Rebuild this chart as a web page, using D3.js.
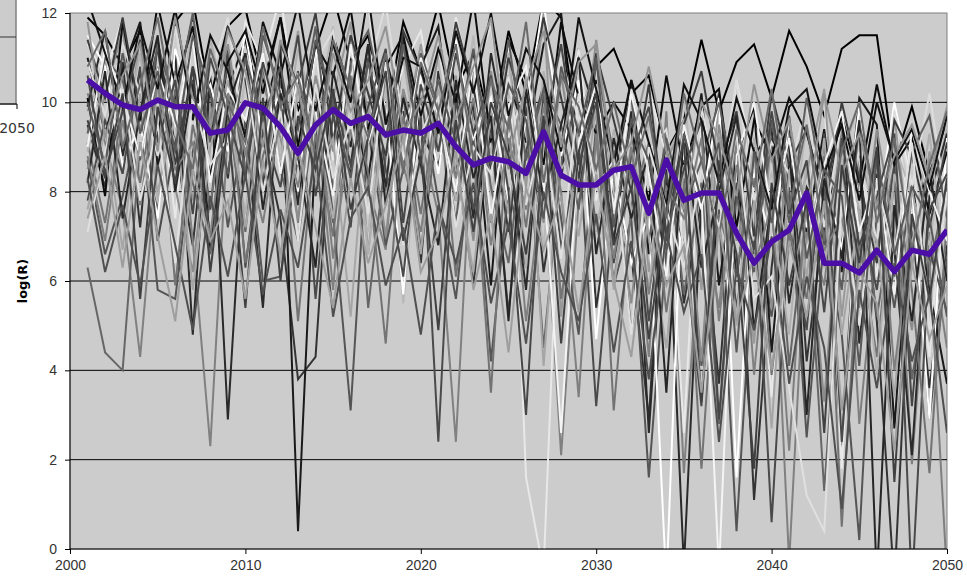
<!DOCTYPE html>
<html>
<head>
<meta charset="utf-8">
<script src="https://cdn.jsdelivr.net/npm/d3@7"></script>
<style>
  html, body { margin: 0; padding: 0; background: #fff; }
  svg { display: block; font-family: "DejaVu Sans", Verdana, sans-serif; }
  .axis text { fill: #333; font-size: 14px; }
  .axis path, .axis line { stroke: #000; }
</style>
</head>
<body>
<div id="chart"></div>
<script>
// years on the x axis
const years = d3.range(2001, 2051);
const xTicks = [2000, 2010, 2020, 2030, 2040, 2050];
const yTicks = [0, 2, 4, 6, 8, 10, 12];

// mean line (purple)
const meanLogR = [
  10.50, 10.20, 9.94, 9.84, 10.05, 9.90, 9.90, 9.31, 9.38, 9.99,
  9.87, 9.45, 8.86, 9.49, 9.84, 9.53, 9.68, 9.27, 9.38, 9.31,
  9.53, 9.01, 8.60, 8.75, 8.67, 8.41, 9.34, 8.37, 8.15, 8.15,
  8.48, 8.56, 7.52, 8.71, 7.81, 7.97, 7.97, 7.07, 6.40, 6.88,
  7.14, 7.97, 6.40, 6.40, 6.18, 6.69, 6.21, 6.69, 6.60, 7.14
];

// individual runs, one grey shade each
const runColors = [
  "#000000", "#333333", "#808080", "#e8e8e8", "#555555", "#999999",
  "#1a1a1a", "#b8b8b8", "#666666", "#2a2a2a", "#ffffff", "#4a4a4a",
  "#8c8c8c", "#dddddd", "#0d0d0d", "#737373", "#b0b0b0", "#3d3d3d",
  "#5e5e5e", "#a6a6a6", "#262626", "#f4f4f4", "#474747", "#7f7f7f",
  "#111111", "#e0e0e0", "#595959", "#949494", "#404040", "#6b6b6b",
  "#4f4f4f", "#9e9e9e"
];

const runs = [
  [11.9, 11.5, 10.8, 11.6, 9.2, 11.8, 12.3, 10.1, 11.7, 12.1,
   10.4, 11.9, 9.8, 11.2, 12.4, 10.9, 11.5, 9.6, 11.8, 10.7,
   12.2, 10.3, 11.1, 9.4, 11.6, 10.2, 12.3, 11.9, 9.1, 10.8,
   11.2, 10.2, 10.6, 8.9, 9.6, 11.4, 9.8, 10.9, 11.3, 10.1,
   11.6, 10.8, 9.7, 11.2, 11.5, 11.5, 8.6, 9.9, 8.4, 9.6],
  [9.5, 8.1, 10.9, 7.2, 11.4, 9.0, 6.8, 10.5, 8.3, 11.7,
   9.2, 7.4, 3.8, 4.3, 10.2, 8.6, 11.3, 7.9, 9.8, 6.4,
   10.7, 8.8, 5.9, 9.6, 7.1, 10.4, 6.2, 8.7, 11.2, 5.4,
   8.1, 6.6, 2.9, 9.3, 5.5, 7.8, 3.7, 8.9, 1.1, 6.3,
   9.6, 4.2, 7.4, 2.3, 8.7, 5.1, -0.8, 7.2, 3.6, 6.8],
  [10.2, 9.1, 7.6, 4.3, 8.9, 10.7, 6.9, 2.3, 9.4, 11.1,
   8.2, 10.5, 7.3, 9.8, 5.8, 10.9, 8.1, 6.7, 11.3, 9.2,
   7.5, 2.4, 9.9, 7.3, 9.6, 5.1, 8.4, 2.1, 7.8, 9.1,
   6.0, 8.5, 4.3, 9.8, 1.7, 7.6, 5.4, 9.2, 3.9, 8.1,
   -0.3, 7.3, 5.9, 9.4, 2.8, 6.7, 8.6, 1.9, 7.1, 4.5],
  [11.3, 10.6, 11.9, 9.4, 10.8, 7.4, 11.6, 10.3, 9.1, 11.8,
   10.9, 12.4, 9.6, 11.1, 8.7, 10.5, 12.2, 9.3, 10.8, 11.6,
   9.4, 11.9, 10.2, 8.6, 11.4, 1.6, -0.5, 9.3, 11.2, 7.8,
   9.4, 7.9, 10.3, 8.8, 2.6, 9.7, 7.2, 10.5, 8.6, 3.4,
   9.1, 7.7, 10.2, 1.8, 8.9, 6.1, 9.6, 7.4, 4.3, 9.2],
  [8.7, 6.6, 7.9, 9.8, 5.8, 5.6, 8.9, 10.4, 7.2, 9.6,
   6.0, 6.1, 8.8, 10.3, 7.5, 3.1, 9.4, 6.8, 8.5, 10.1,
   7.8, 5.6, 9.2, 4.2, 8.1, 6.3, 10.2, 7.4, 4.8, 9.5,
   5.9, 7.4, 1.6, 6.7, 8.3, 4.1, 7.6, 0.4, 6.9, 5.2,
   8.1, 2.5, 7.0, 4.8, 0.2, 7.7, 5.4, 8.2, 2.9, 6.5],
  [9.8, 10.9, 8.4, 11.5, 9.7, 10.6, 7.8, 9.9, 11.2, 8.5,
   10.7, 9.3, 11.6, 8.2, 10.1, 11.8, 6.6, 10.4, 9.1, 11.3,
   8.9, 10.6, 7.7, 9.5, 11.0, 8.1, 12.1, 5.2, 9.6, 10.9,
   7.3, 10.4, 6.2, 8.7, 9.5, 5.8, 10.1, 7.9, 4.6, 9.3,
   6.9, 8.4, 10.3, 5.2, 8.8, 7.5, 9.7, 6.3, 8.9, 7.8],
  [11.0, 9.3, 10.7, 11.8, 8.6, 10.1, 11.9, 6.7, 10.3, 11.4,
   9.7, 11.2, 0.4, 9.1, 11.5, 10.2, 8.3, 11.0, 9.5, 10.8,
   11.7, 8.4, 10.0, 5.9, 10.6, 9.1, 11.3, 12.0, 8.0, 10.5,
   8.2, 10.5, 6.6, 9.1, 7.7, 10.2, 5.9, 8.8, 9.9, 4.4,
   8.6, 7.1, 9.4, 6.2, 10.1, 9.5, 2.7, 8.2, 5.8, 3.7],
  [10.5, 9.6, 11.4, 8.3, 10.2, 9.1, 11.8, 8.7, 7.5, 10.6,
   11.3, 8.9, 10.1, 9.6, 11.7, 8.2, 7.1, 10.4, 5.5, 9.8,
   10.9, 8.6, 11.5, 7.9, 10.2, 9.3, 6.8, 10.7, 8.4, 11.1,
   8.0, 6.3, 9.6, 7.8, 10.2, 6.5, 8.9, 9.8, 7.1, 8.4,
   6.6, 9.5, 7.3, 8.7, 10.0, 6.4, 9.1, 7.9, 6.8, 9.6],
  [6.3, 4.4, 4.0, 9.1, 7.6, 10.3, 8.2, 6.6, 9.7, 7.1,
   10.8, 8.5, 6.9, 9.9, 7.3, 10.6, 5.4, 8.8, 10.2, 6.7,
   9.5, 7.8, 10.9, 8.1, 6.4, 9.7, 4.5, 8.6, 10.3, 7.2,
   8.8, 4.9, 7.4, 9.1, 5.7, 8.2, 2.8, 7.9, 6.4, 9.2,
   4.1, 7.6, 1.3, 6.9, 8.4, 5.2, 7.7, 3.8, 6.3, 8.1],
  [9.9, 11.6, 8.8, 10.7, 9.2, 11.1, 4.8, 10.6, 2.9, 9.4,
   5.4, 10.8, 7.7, 11.3, 9.6, 8.4, 10.9, 8.1, 11.4, 9.3,
   8.6, 10.2, 7.4, 11.1, 9.0, 5.8, 10.5, 8.3, 11.0, 9.7,
   6.9, 9.8, 2.6, 8.5, -0.4, 7.9, 10.2, 6.1, 8.8, 9.4,
   5.5, 8.1, 7.4, 9.7, 4.6, 8.4, 6.7, 2.1, 7.9, 9.3],
  [11.5, 10.8, 8.6, 9.5, 7.4, 11.2, 9.7, 10.4, 8.9, 11.6,
   9.1, 10.3, 8.0, 11.2, 9.5, 7.3, 10.8, 9.9, 5.7, 10.6,
   8.4, 11.4, 9.2, 10.1, 7.8, 9.6, 12.3, 8.8, 10.5, 4.7,
   8.6, 6.4, 7.5, -0.8, 9.2, 7.6, 10.1, 1.6, 8.4, 6.8,
   9.6, 7.2, 8.5, 6.7, 9.9, 7.3, 10.0, 8.1, 2.9, 9.2],
  [7.8, 9.6, 8.4, 10.8, 6.9, 9.1, 10.5, 7.6, 11.2, 6.3,
   9.4, 8.1, 10.7, 5.6, 9.8, 7.2, 11.0, 8.5, 6.1, 9.7,
   2.4, 10.1, 7.6, 9.3, 5.3, 8.9, 10.4, 6.7, 9.1, 3.2,
   7.7, 9.5, 5.1, 8.4, 6.8, 3.2, 8.7, 5.4, 7.9, 0.6,
   7.2, 4.9, 9.3, 2.4, 7.6, 5.8, 8.6, -0.9, 6.7, 5.3],
  [8.5, 10.2, 11.6, 9.4, 10.8, 8.1, 6.2, 9.7, 11.3, 8.8,
   10.4, 9.2, 7.4, 10.6, 8.9, 11.5, 9.8, 7.0, 10.3, 8.7,
   11.1, 9.5, 6.9, 10.7, 8.5, 9.9, 7.3, 10.6, 8.2, 11.4,
   8.3, 5.5, 9.1, 7.7, 8.7, 4.2, 9.5, 6.9, 8.3, 5.4,
   9.0, 7.6, 3.3, 8.5, 6.2, 9.4, 7.1, 4.9, 8.7, 9.7],
  [10.9, 9.7, 11.3, 10.2, 8.8, 11.7, 9.4, 10.6, 11.9, 9.0,
   11.4, 10.1, 8.6, 10.9, 11.6, 9.3, 10.7, 12.2, 9.5, 10.4,
   11.2, 8.9, 10.6, 11.7, 9.2, 10.3, 8.1, 11.0, 9.6, 10.8,
   7.5, 10.3, 8.9, 9.4, 6.7, 9.9, 8.0, 10.5, 7.8, 9.1,
   8.4, 10.0, 7.2, 9.6, 8.7, 6.9, 9.8, 8.1, 10.2, 7.7],
  [10.1, 7.9, 11.8, 9.6, 12.2, 10.4, 11.7, 8.3, 10.9, 11.6,
   10.2, 11.9, 9.0, 11.3, 10.6, 12.1, 9.4, 10.8, 11.5, 9.7,
   11.2, 10.0, 12.3, 9.1, 11.4, 10.5, 8.6, 11.8, 10.1, 9.3,
   10.0, 9.4, 7.8, 10.6, 8.5, 9.9, 10.3, 7.2, 9.6, 8.8,
   10.1, 9.3, 7.9, 9.7, 8.2, 10.4, 8.6, 9.2, 7.5, 8.9],
  [9.1, 7.3, 9.9, 8.2, 10.6, 5.9, 9.5, 7.7, 10.3, 6.4,
   8.8, 10.1, 5.1, 9.3, 7.0, 10.5, 8.4, 4.6, 9.7, 7.5,
   10.2, 6.1, 8.9, 3.5, 9.8, 7.2, 10.4, 5.6, 8.3, 9.9,
   3.1, 7.7, 9.1, 5.3, 8.2, 1.8, 7.5, 6.1, 9.0, 3.9,
   7.1, 5.6, 8.8, 0.5, 6.9, 4.3, 8.3, 5.8, 1.7, 7.4],
  [8.9, 10.4, 9.2, 11.1, 7.8, 10.6, 8.6, 11.4, 9.8, 7.5,
   10.9, 8.7, 11.2, 9.6, 7.4, 10.3, 6.6, 9.9, 11.0, 8.4,
   10.5, 7.8, 9.6, 8.9, 11.1, 6.3, 10.7, 8.5, 9.2, 7.1,
   9.4, 7.6, 5.9, 8.8, 9.6, 6.6, 8.1, 5.2, 9.2, 7.5,
   4.8, 8.7, 6.3, 9.1, 7.6, 3.9, 8.4, 6.8, 9.3, 5.9],
  [11.4, 10.1, 11.9, 9.7, 11.2, 8.6, 10.8, 9.3, 11.7, 10.5,
   8.1, 11.3, 10.4, 12.0, 9.1, 11.5, 10.2, 8.8, 11.6, 10.7,
   9.4, 11.8, 10.3, 8.5, 11.0, 9.7, 11.9, 10.1, 8.3, 11.1,
   9.6, 8.0, 10.4, 6.9, 9.5, 10.7, 8.5, 9.8, 7.0, 10.2,
   8.6, 9.4, 7.7, 10.0, 8.3, 6.4, 9.6, 8.8, 7.2, 9.1],
  [9.3, 11.0, 10.5, 8.7, 11.3, 9.9, 12.0, 9.1, 10.8, 8.4,
   11.5, 10.2, 9.4, 11.7, 8.0, 10.9, 11.6, 9.7, 8.6, 11.1,
   9.9, 7.3, 10.8, 9.2, 11.4, 8.7, 10.3, 9.5, 7.6, 10.9,
   8.8, 10.1, 6.9, 9.2, 7.6, 8.7, 10.0, 7.9, 6.2, 9.6,
   7.3, 10.1, 8.0, 5.8, 9.5, 7.8, 6.1, 8.9, 9.7, 7.4],
  [7.6, 9.4, 6.7, 10.2, 8.0, 9.7, 5.8, 9.0, 10.5, 7.2,
   9.6, 6.4, 10.4, 8.3, 9.2, 5.2, 10.0, 7.9, 9.5, 6.6,
   10.3, 8.5, 6.2, 9.8, 7.5, 10.6, 4.1, 9.3, 7.0, 9.9,
   5.8, 9.1, 7.0, 4.5, 8.6, 6.4, 9.3, 5.0, 7.8, 2.7,
   8.5, 6.1, 9.2, 4.8, 7.6, 6.9, 3.4, 8.1, 5.5, 7.9],
  [8.2, 10.7, 7.4, 9.8, 11.5, 8.0, 10.4, 6.9, 9.9, 11.1,
   7.6, 10.2, 8.8, 6.3, 10.7, 9.0, 11.3, 7.7, 10.1, 8.6,
   6.8, 10.5, 8.3, 9.7, 5.1, 10.3, 7.8, 9.5, 11.0, 6.6,
   9.2, 7.4, 8.9, 3.5, 9.4, 6.3, 8.0, 9.7, 4.9, 7.8,
   9.1, 3.0, 8.3, 6.5, 9.6, -0.7, 7.7, 5.1, 8.5, 6.0],
  [9.0, 11.2, 10.1, 8.8, 10.7, 9.5, 11.4, 8.2, 10.3, 9.6,
   11.1, 8.4, 10.6, 9.8, 7.9, 11.3, 9.1, 10.5, 8.7, 11.0,
   9.7, 8.0, 10.9, 7.4, 9.9, 10.8, 8.3, 2.6, 9.1, 10.4,
   7.6, 10.2, 8.4, 6.1, 9.5, 7.9, -0.5, 8.8, 10.0, 7.5,
   9.2, 6.6, 8.6, 9.8, 7.1, 8.3, 5.7, 9.4, 8.0, 6.9],
  [10.6, 8.4, 9.8, 11.4, 9.1, 10.5, 7.5, 11.0, 9.7, 8.3,
   10.9, 9.4, 11.5, 7.9, 10.2, 8.6, 9.9, 11.2, 7.3, 10.4,
   8.9, 11.1, 9.3, 10.6, 8.0, 3.0, 9.4, 11.3, 8.6, 10.0,
   6.4, 8.8, 9.9, 7.1, 8.5, 9.6, 2.9, 8.2, 6.7, 9.8,
   7.5, 8.7, 5.3, 9.2, 6.8, 7.9, 9.3, 3.2, 7.6, 8.4],
  [8.8, 6.9, 9.6, 7.7, 10.4, 8.5, 9.1, 7.0, 10.2, 8.9,
   7.3, 9.7, 8.1, 10.3, 6.5, 9.4, 7.9, 10.6, 8.6, 7.1,
   9.8, 8.3, 10.1, 6.8, 9.2, 7.6, 9.9, 8.0, 3.4, 9.3,
   6.5, 9.0, 5.7, 8.1, 7.4, 9.2, 5.1, 8.6, 6.3, 7.7,
   2.2, 8.0, 6.7, 7.4, 5.4, 8.8, 4.0, 7.3, 6.4, -0.6],
  [12.3, 11.1, 9.9, 11.7, 10.3, 12.1, 9.6, 11.5, 10.7, 9.2,
   11.8, 10.6, 12.2, 9.8, 11.3, 10.0, 12.4, 9.5, 11.0, 10.8,
   9.3, 11.6, 10.2, 12.0, 9.7, 11.2, 10.5, 8.9, 11.9, 10.3,
   8.6, 10.5, 9.1, 7.7, 10.4, 9.6, 8.2, 10.1, 8.9, 7.6,
   9.9, 10.3, 8.4, 9.5, 7.8, 10.0, 8.7, 9.4, 8.1, 9.7],
  [7.1, 8.9, 10.3, 7.8, 9.5, 6.4, 10.1, 8.6, 9.2, 10.7,
   8.0, 9.8, 6.9, 10.4, 8.3, 9.6, 7.5, 10.9, 6.8, 9.3,
   10.1, 7.2, 9.0, 8.4, 10.6, 7.7, 9.4, 6.5, 10.2, 8.1,
   8.7, 4.8, 9.0, 7.6, 6.3, 8.5, 7.2, 9.3, 5.6, 6.1,
   3.6, 1.2, 0.4, 7.9, 5.0, 8.2, 6.6, 9.1, 4.9, 8.0],
  [10.0, 8.6, 11.1, 9.3, 10.7, 8.9, 11.5, 10.2, 8.4, 11.0,
   9.6, 10.8, 8.7, 11.4, 10.0, 8.3, 10.9, 9.2, 11.3, 8.8,
   10.5, 9.1, 11.2, 8.6, 10.4, 9.6, 7.4, 10.8, 9.3, 11.0,
   7.2, 9.6, 8.7, 6.7, 9.3, 7.8, 9.1, 4.4, 8.9, 7.3,
   9.7, 6.5, 8.5, 7.9, 4.1, 8.8, 6.6, 8.1, 7.4, 5.2],
  [11.8, 9.2, 10.6, 11.3, 8.9, 11.9, 10.1, 9.4, 11.6, 10.7,
   9.0, 11.4, 10.3, 8.6, 11.1, 9.8, 10.5, 11.7, 9.3, 10.0,
   11.5, 9.6, 10.8, 11.9, 8.7, 10.4, 11.6, 9.0, 10.9, 11.3,
   8.5, 9.1, 10.8, 8.9, 7.6, 10.0, 9.2, 7.9, 10.4, 8.7,
   9.6, 7.5, 10.2, 8.4, 9.3, 7.7, 8.8, 9.5, 8.3, 9.9],
  [9.6, 8.3, 10.2, 5.6, 9.9, 8.2, 10.8, 6.2, 9.5, 5.4,
   10.1, 6.0, 9.7, 8.5, 10.3, 7.6, 9.2, 10.7, 6.9, 8.8,
   4.9, 9.6, 7.1, 10.0, 8.8, 6.6, 9.7, 4.6, 8.9, 10.2,
   6.8, 8.1, 4.7, 7.6, 9.1, 3.3, 8.4, 6.6, 1.8, 8.2,
   5.9, 7.8, 2.6, 8.6, 6.4, 9.0, 1.5, 7.5, 5.6, 8.3],
  [10.8, 11.6, 9.0, 10.4, 11.9, 9.6, 8.5, 11.2, 10.0, 9.1,
   11.7, 9.9, 10.6, 8.8, 11.4, 10.3, 9.2, 11.1, 8.4, 10.9,
   9.8, 11.3, 8.7, 10.5, 9.4, 11.8, 8.2, 10.6, 9.9, 8.5,
   10.0, 8.3, 9.7, 7.4, 10.2, 8.7, 7.0, 9.4, 8.1, 10.3,
   7.6, 9.5, 6.9, 8.9, 10.0, 7.3, 9.2, 6.7, 8.6, 9.8],
  [8.3, 6.2, 7.7, 5.9, 8.6, 6.8, 4.9, 7.9, 6.1, 8.4,
   5.7, 7.6, 6.3, 8.9, 5.2, 7.4, 8.1, 5.9, 7.2, 4.8,
   7.7, 6.4, 8.2, 5.5, 7.3, 4.6, 8.0, 6.2, 5.1, 7.5,
   4.4, 6.9, 3.8, 7.1, 5.3, 6.6, 2.4, 6.3, 4.9, 7.0,
   3.7, 6.1, 4.5, 0.9, 5.8, 3.6, 6.4, 4.2, 5.7, 2.6],
  [7.4, 8.8, 6.3, 9.1, 7.0, 5.1, 8.5, 6.9, 7.8, 5.6,
   8.7, 6.6, 9.0, 7.2, 5.4, 8.3, 6.4, 7.7, 9.2, 6.2,
   7.1, 8.9, 5.8, 7.5, 4.4, 8.1, 6.7, 7.9, 5.3, 8.4,
   6.0, 4.3, 7.6, 5.9, 6.8, 3.5, 7.2, 5.1, 6.6, 4.0,
   6.9, 5.2, 7.8, 3.1, 6.2, 5.5, 2.2, 6.4, 4.7, 5.9]
];

const W = 967, H = 579;
const margin = { top: 13, left: 70 };
const width = 947 - margin.left;
const height = 549 - margin.top;

const svg = d3.select("#chart").append("svg")
  .attr("width", W)
  .attr("height", H);

// bit of the neighbouring chart peeking in at the top left
const corner = svg.append("g");
corner.append("rect")
  .attr("x", -2).attr("y", -2).attr("width", 18).attr("height", 106)
  .attr("fill", "#cccccc").attr("stroke", "#808080").attr("stroke-width", 1.5);
corner.append("line")
  .attr("x1", 0).attr("x2", 16).attr("y1", 37).attr("y2", 37)
  .attr("stroke", "#333");
corner.append("line")
  .attr("x1", 0).attr("x2", 17).attr("y1", 104).attr("y2", 104)
  .attr("stroke", "#000");
corner.append("line")
  .attr("x1", 17).attr("x2", 17).attr("y1", 104).attr("y2", 109)
  .attr("stroke", "#000");
corner.append("text")
  .attr("x", 17).attr("y", 133)
  .attr("text-anchor", "middle")
  .attr("fill", "#333").attr("font-size", "14px")
  .text("2050");

const g = svg.append("g").attr("transform", `translate(${margin.left},${margin.top})`);

const x = d3.scaleLinear().domain([2000, 2050]).range([0, width]);
const y = d3.scaleLinear().domain([0, 12]).range([height, 0]);

g.append("rect")
  .attr("width", width).attr("height", height)
  .attr("fill", "#cccccc").attr("stroke", "#808080");

g.append("defs").append("clipPath").attr("id", "plotClip")
  .append("rect").attr("width", width).attr("height", height);

// gridlines
g.append("g")
  .selectAll("line")
  .data(yTicks.filter(d => d > 0 && d < 12))
  .join("line")
  .attr("x1", 0).attr("x2", width)
  .attr("y1", d => y(d)).attr("y2", d => y(d))
  .attr("stroke", "#000").attr("stroke-width", 1);

const line = d3.line()
  .x((d, i) => x(years[i]))
  .y(d => y(d));

const plot = g.append("g").attr("clip-path", "url(#plotClip)");

plot.selectAll("path.run")
  .data(runs)
  .join("path")
  .attr("class", "run")
  .attr("fill", "none")
  .attr("stroke", (d, i) => runColors[i % runColors.length])
  .attr("stroke-width", 2)
  .attr("d", line);

plot.append("path")
  .datum(meanLogR)
  .attr("fill", "none")
  .attr("stroke", "#4b0fa8")
  .attr("stroke-width", 5.5)
  .attr("stroke-linejoin", "round")
  .attr("d", line);

// axes
g.append("g")
  .attr("class", "axis")
  .call(d3.axisLeft(y).tickValues(yTicks).tickSize(5).tickPadding(8).tickFormat(d3.format("d")))
  .call(a => a.select(".domain").attr("d", `M0,${height}V0`));

g.append("g")
  .attr("class", "axis")
  .attr("transform", `translate(0,${height})`)
  .call(d3.axisBottom(x).tickValues(xTicks).tickSize(5).tickPadding(6).tickFormat(d3.format("d")))
  .call(a => a.select(".domain").attr("d", `M0,0H${width}`));

svg.append("text")
  .attr("transform", `translate(27,${margin.top + y(6)}) rotate(-90)`)
  .attr("text-anchor", "middle")
  .attr("font-weight", "bold")
  .attr("font-size", "13px")
  .attr("fill", "#000")
  .text("log(R)");
</script>
</body>
</html>
